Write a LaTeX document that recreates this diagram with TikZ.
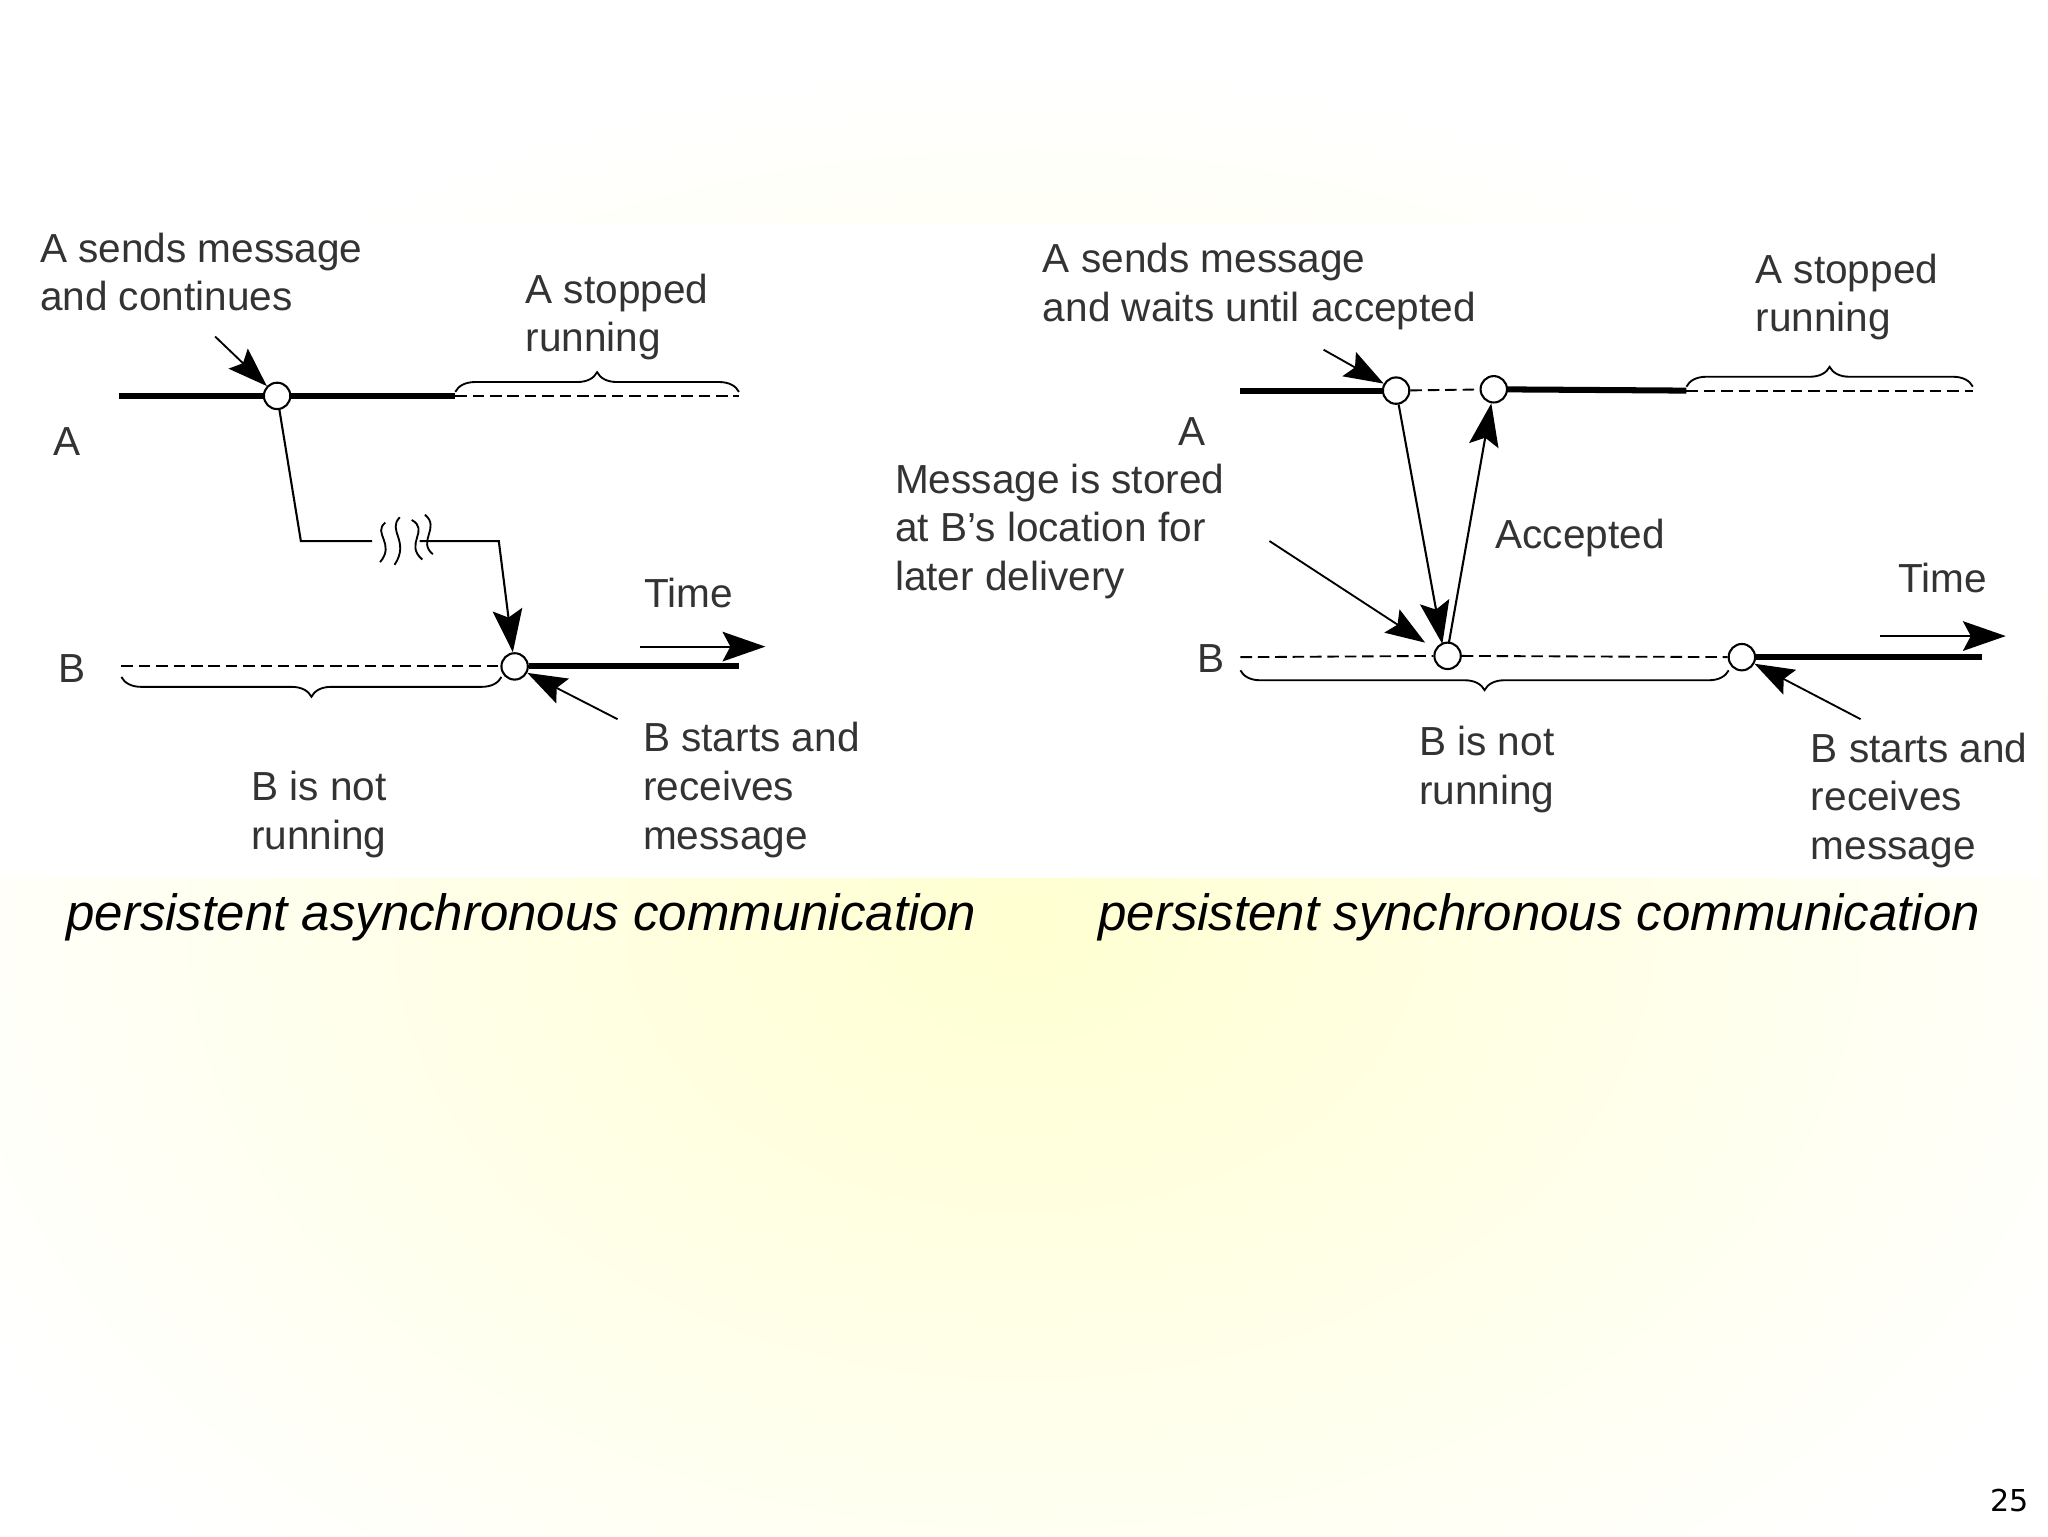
\documentclass[tikz,border=0pt]{standalone}
\usepackage{fontspec}
\setmainfont{Liberation Sans}
\newfontfamily\pgnum{DejaVu Sans}
\usetikzlibrary{arrows.meta,decorations.pathreplacing}
\begin{document}
\begin{tikzpicture}[x=0.02cm,y=-0.02cm,
  lbl/.style={anchor=north west,inner sep=0,align=left,font=\fontsize{17.5}{21}\selectfont,text=black!80},
  captxt/.style={anchor=west,inner sep=0,font=\fontsize{22}{26}\selectfont\itshape},
  ev/.style={circle,draw,fill=white,minimum size=0.4cm,inner sep=0,line width=0.9pt},
  run/.style={line width=2.6pt},
  idle/.style={dashed,dash pattern=on 5pt off 2.5pt,line width=0.8pt},
  msg/.style={line width=0.9pt,-{Stealth[length=0.65cm,width=0.45cm,inset=0.12cm]}},
  ptr/.style={line width=0.8pt,-{Stealth[length=0.6cm,width=0.42cm,inset=0.1cm]}},
  brc/.style={decorate,decoration={brace,amplitude=0.3cm},line width=0.8pt}]
\useasboundingbox (0,0) rectangle (1552,1164);
\fill[white] (0,0) rectangle (1552,1164);
\shade[inner color=yellow!18,outer color=white] (776,700) ellipse (900 and 650);
\fill[white] (0,170) rectangle (1548,665);
% ---------- left ----------
\node[lbl] (t1) at (30,176) {A sends message\\and continues};
\node[lbl] (t2) at (398,207) {A stopped\\running};
\node[lbl] (la) at (40,324) {A};
\node[lbl] (lb) at (44,496) {B};
\node[lbl] (t3) at (488,438) {Time};
\node[lbl] (t4) at (487,547) {B starts and\\receives\\message};
\node[lbl] (t5) at (190,584) {B is not\\running};
\node[ev] (a1) at (210,300) {};
\node[ev] (b1) at (390,505) {};
\coordinate (a0) at (90,300); \coordinate (a2) at (345,300); \coordinate (a3) at (560,300);
\coordinate (b0) at (92,505); \coordinate (b2) at (560,505);
\draw[run] (a0) -- (a1) (a1) -- (a2);
\draw[idle] (a2) -- (a3);
\draw[brc] (345,297) -- (560,297);
\draw[idle] (b0) -- (b1);
\draw[run] (b1) -- (b2);
\draw[brc] (380,513) -- (92,513);
\coordinate (m1) at (228,410); \coordinate (m2) at (282,410);
\coordinate (m3) at (318,410); \coordinate (m4) at (378,410);
\draw[line width=0.9pt] (a1) -- (m1) -- (m2);
\draw[msg] (m3) -- (m4) -- (b1);
\draw[line width=0.8pt] (292,396) .. controls (282,404) and (300,412) .. (288,426)
  (303,392) .. controls (293,402) and (311,410) .. (299,428)
  (312,394) .. controls (326,402) and (306,412) .. (320,424)
  (322,390) .. controls (334,400) and (316,410) .. (328,420);
\coordinate (ta) at (485,490); \coordinate (tb) at (580,490);
\draw[msg] (ta) -- (tb);
\coordinate (p1) at (163,255); \coordinate (p2) at (468,545);
\draw[ptr] (p1) -- (a1);
\draw[ptr] (p2) -- (b1);
% ---------- right ----------
\node[lbl] (u1) at (790,184) {A sends message\\and waits until accepted};
\node[lbl] (u2) at (1330,192) {A stopped\\running};
\node[lbl] (ua) at (893,316) {A};
\node[lbl] (u3) at (678,351) {Message is stored\\at B's location for\\later delivery};
\node[lbl] (u4) at (1133,393) {Accepted};
\node[lbl] (ub) at (907,488) {B};
\node[lbl] (u5) at (1438,426) {Time};
\node[lbl] (u6) at (1372,555) {B starts and\\receives\\message};
\node[lbl] (u7) at (1075,550) {B is not\\running};
\node[ev] (c1) at (1058,296) {};
\node[ev] (c2) at (1132,295) {};
\node[ev] (d1) at (1097,497) {};
\node[ev] (d2) at (1320,498) {};
\coordinate (c0) at (940,296); \coordinate (c3) at (1278,296); \coordinate (c4) at (1495,296);
\coordinate (d0) at (940,498); \coordinate (d3) at (1502,498);
\draw[run] (c0) -- (c1);
\draw[idle] (c1) -- (c2);
\draw[run] (c2) -- (c3);
\draw[idle] (c3) -- (c4);
\draw[brc] (1278,293) -- (1495,293);
\draw[idle] (d0) -- (d1) (d1) -- (d2);
\draw[run] (d2) -- (d3);
\draw[brc] (1310,508) -- (940,508);
\draw[msg] (c1) -- (1093,488);
\draw[msg] (1098,487) -- (c2);
\coordinate (q1) at (962,410); \coordinate (q2) at (1003,265); \coordinate (q3) at (1410,545);
\draw[ptr] (q1) -- (1080,487);
\draw[ptr] (q2) -- (c1);
\draw[ptr] (q3) -- (d2);
\coordinate (sa) at (1425,482); \coordinate (sb) at (1520,482);
\draw[msg] (sa) -- (sb);
% captions
\node[captxt] (k1) at (50,695) {persistent asynchronous communication};
\node[captxt] (k2) at (832,695) {persistent synchronous communication};
\node[anchor=east,inner sep=0,font=\pgnum\fontsize{13}{15}\selectfont] (pn) at (1538,1137) {25};
\end{tikzpicture}
\end{document}
